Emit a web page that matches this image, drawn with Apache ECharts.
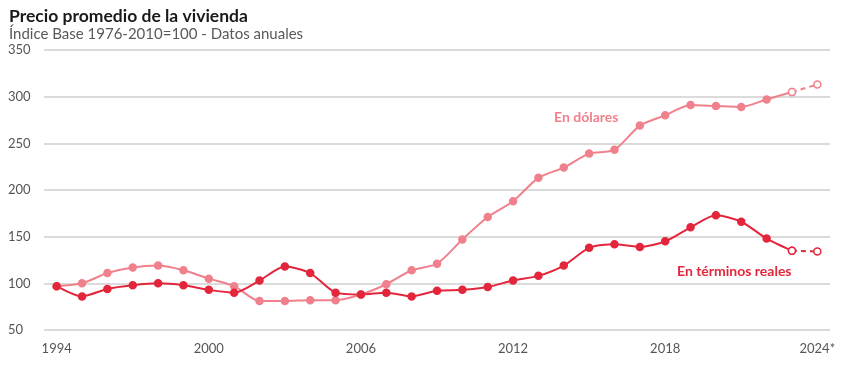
<!DOCTYPE html>
<html><head><meta charset="utf-8">
<script src="https://cdn.jsdelivr.net/npm/echarts@6/dist/echarts.min.js"></script>
<style>html,body{margin:0;padding:0;background:#fff}#c{width:848px;height:369px}</style>
</head><body><div id="c"></div>
<script>
const years = [1994,1995,1996,1997,1998,1999,2000,2001,2002,2003,2004,2005,2006,2007,2008,2009,2010,2011,2012,2013,2014,2015,2016,2017,2018,2019,2020,2021,2022,2023,2024];
const enDolares = [97,100,111,117,119,114,105,97,81,81,82,82,88,99,114,121,147,171,188,213,224,239,243,269,280,291,290,289,297,305,313];
const enTerminosReales = [97,86,94,98,100,98,93,90,103,118,111,90,88,90,86,92,93,96,103,108,119,138,142,139,145,160,173,166,148,135,134];
const estimatedFrom = 2023;
const yTicks = [50,100,150,200,250,300,350];

const font = 'Lato, "Open Sans", sans-serif';
const cDol = '#f0818c';
const cReal = '#e3263b';
const estIdx = years.indexOf(estimatedFrom);

function solid(arr){ return arr.map((v,i)=> i<=estIdx ? (i===estIdx ? {value:v,itemStyle:{color:'#fff'}} : v) : null); }
function dashed(arr){ return arr.map((v,i)=> i>=estIdx ? {value:v,itemStyle:{color:'#fff'}} : null); }

function mk(name, arr, color){
  return [{
    name, type:'line', data: solid(arr), smooth:0.25, symbol:'circle', symbolSize:7,
    lineStyle:{color, width:2}, itemStyle:{color, borderColor:color, borderWidth:1.5}, z:3
  },{
    name, type:'line', data: dashed(arr), symbol:'circle', symbolSize:7,
    lineStyle:{color, width:2, type:[5,4]}, itemStyle:{color:'#fff', borderColor:color, borderWidth:1.5}, z:2
  }];
}

const chart = echarts.init(document.getElementById('c'));
chart.setOption({
  animation:false,
  title:[{text:'Precio promedio de la vivienda', left:4, top:2,
    textStyle:{fontFamily:font, fontSize:17.5, fontWeight:'bold', color:'#1a1a1a'}},
    {text:'Índice Base 1976-2010=100 - Datos anuales', left:4, top:22,
    textStyle:{fontFamily:font, fontSize:15, fontWeight:'normal', color:'#595959'}}],
  grid:{left:44, right:18, top:50, bottom:39},
  xAxis:{type:'category', data:years, boundaryGap:true,
    axisLine:{show:false}, axisTick:{show:false},
    axisLabel:{interval:5, margin:12, fontFamily:font, fontSize:13, color:'#555',
      formatter:v=> (+v===years[years.length-1] ? v+'*' : v)}},
  yAxis:{type:'value', min:yTicks[0], max:yTicks[yTicks.length-1], interval:50,
    axisLine:{show:false}, axisTick:{show:false},
    splitLine:{lineStyle:{color:'#cfcfcf', width:1.5}},
    axisLabel:{align:'left', margin:36, fontFamily:font, fontSize:13, color:'#555'}},
  series:[...mk('En dólares', enDolares, cDol), ...mk('En términos reales', enTerminosReales, cReal)],
  graphic:[
    {type:'text', left:554, top:110, style:{text:'En dólares', fill:cDol, font:'bold 14px '+font}},
    {type:'text', left:677, top:264, style:{text:'En términos reales', fill:cReal, font:'bold 14px '+font}}
  ]
});
</script></body></html>
